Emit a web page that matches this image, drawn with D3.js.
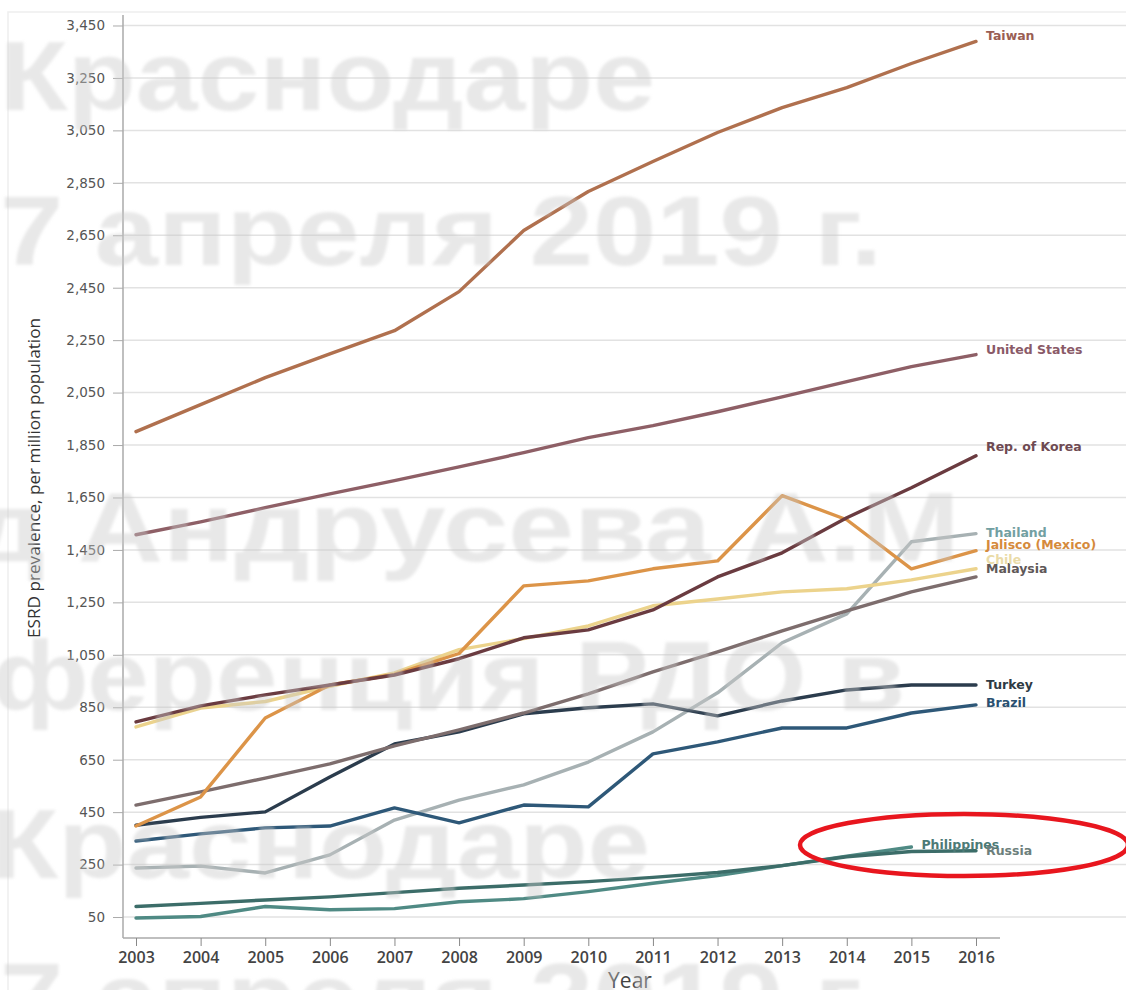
<!DOCTYPE html>
<html>
<head>
<meta charset="utf-8">
<script src="https://cdn.jsdelivr.net/npm/d3@7"></script>
<style>
  body { margin: 0; background: #fff; }
  svg { display: block; }
</style>
</head>
<body>
<svg id="chart" width="1126" height="990"></svg>
<script>
// data
var years = [2003, 2004, 2005, 2006, 2007, 2008, 2009, 2010, 2011, 2012, 2013, 2014, 2015, 2016];
var yTicks = [50, 250, 450, 650, 850, 1050, 1250, 1450, 1650, 1850, 2050, 2250, 2450, 2650, 2850, 3050, 3250, 3450];

var taiwan      = [1901, 2004, 2107, 2198, 2286, 2435, 2668, 2817, 2931, 3042, 3137, 3213, 3305, 3389];
var unitedStates= [1508, 1557, 1611, 1664, 1714, 1767, 1821, 1878, 1924, 1977, 2034, 2092, 2149, 2195];
var korea       = [794, 855, 897, 935, 973, 1035, 1115, 1145, 1221, 1347, 1439, 1573, 1687, 1809];
var thailand    = [237, 244, 218, 287, 420, 496, 554, 641, 756, 905, 1096, 1206, 1481, 1512];
var jalisco     = [397, 508, 809, 935, 975, 1055, 1313, 1332, 1378, 1408, 1657, 1565, 1378, 1447];
var chile       = [775, 847, 872, 930, 981, 1070, 1112, 1160, 1237, 1263, 1290, 1302, 1336, 1378];
var malaysia    = [477, 527, 580, 634, 703, 764, 828, 901, 985, 1061, 1141, 1218, 1290, 1347];
var turkey      = [400, 430, 451, 584, 710, 756, 825, 848, 863, 817, 874, 916, 935, 935];
var brazil      = [340, 367, 390, 397, 466, 409, 477, 470, 672, 718, 771, 771, 828, 859];
var philippines = [46, 52, 90, 78, 82, 108, 120, 147, 179, 208, 246, 282, 317];
var russia      = [90, 102, 115, 127, 143, 160, 172, 185, 201, 220, 246, 280, 300, 303];

var series = [
  {name: "Philippines",      values: philippines,  color: "#4f8a84", label: "#4c7a76", nudge: -2},
  {name: "Russia",           values: russia,       color: "#3c6d69", label: "#6d7f7c", nudge: 0},
  {name: "Thailand",         values: thailand,     color: "#a7b1b3", label: "#72a0a2", nudge: -1},
  {name: "Brazil",           values: brazil,       color: "#2e5878", label: "#2a5070", nudge: -2},
  {name: "Turkey",           values: turkey,       color: "#2b3c4d", label: "#2e3a44", nudge: 0},
  {name: "Malaysia",         values: malaysia,     color: "#7d6d6d", label: "#5f5858", nudge: -8},
  {name: "Chile",            values: chile,        color: "#ecd38c", label: "#eadba8", nudge: -9},
  {name: "Jalisco (Mexico)", values: jalisco,      color: "#dc9448", label: "#d58a3c", nudge: -6},
  {name: "Rep. of Korea",    values: korea,        color: "#6a3b40", label: "#6e4a52", nudge: -9},
  {name: "United States",    values: unitedStates, color: "#8e5f66", label: "#8a5a68", nudge: -5},
  {name: "Taiwan",           values: taiwan,       color: "#b0704e", label: "#9a5e54", nudge: -6}
];

var watermark = ["Краснодаре", "7 апреля 2019 г.", "д Андрусева А.М", "ференция РДО в", "Краснодаре", "7 апреля 2019 г."];

var svg = d3.select("#chart");

var x = d3.scaleLinear().domain([2003, 2016]).range([136, 976]);
var y = d3.scaleLinear().domain([-30, 3490]).range([938, 15]);

// faint frame
svg.append("path").attr("d", "M8,990V12H1126").attr("fill", "none").attr("stroke", "#eeeeee").attr("stroke-width", 1.5);

// grid
svg.append("g").selectAll("line").data(yTicks).join("line")
  .attr("x1", 123).attr("x2", 1126)
  .attr("y1", d => y(d)).attr("y2", d => y(d))
  .attr("stroke", "#e2e2e2").attr("stroke-width", 1.5);

// y axis
var yAxis = svg.append("g").attr("transform", "translate(123,0)")
  .call(d3.axisLeft(y).tickValues(yTicks).tickFormat(d3.format(",")).tickSize(10).tickPadding(8));
yAxis.select(".domain").attr("stroke", "#aaaaaa").attr("stroke-width", 1.5).attr("d", "M0,15V938");
yAxis.selectAll(".tick line").attr("stroke", "#aaaaaa");
yAxis.selectAll("text").attr("font-family", "DejaVu Sans").attr("font-size", 13.5).attr("fill", "#555");

// x axis
var xAxis = svg.append("g").attr("transform", "translate(0,938)")
  .call(d3.axisBottom(x).tickValues(years).tickFormat(d3.format("d")).tickSize(8).tickPadding(6));
xAxis.select(".domain").attr("stroke", "#aaaaaa").attr("stroke-width", 1.5).attr("d", "M123,0H1000");
xAxis.selectAll(".tick line").attr("stroke", "#888");
xAxis.selectAll("text").attr("font-family", "Open Sans").attr("font-size", 16).attr("font-weight", 600).attr("fill", "#444");

svg.append("text").attr("x", 630).attr("y", 988).attr("text-anchor", "middle")
  .attr("font-family", "Open Sans").attr("font-size", 21).attr("fill", "#444").text("Year");

svg.append("text").attr("transform", "translate(40,478) rotate(-90)").attr("text-anchor", "middle")
  .attr("font-family", "Open Sans").attr("font-size", 16).attr("fill", "#333")
  .attr("textLength", 320).attr("lengthAdjust", "spacingAndGlyphs")
  .text("ESRD prevalence, per million population");

// lines
var line = d3.line().x((d, i) => x(years[i])).y(d => y(d)).curve(d3.curveLinear);

svg.append("g").selectAll("path").data(series).join("path")
  .attr("d", d => line(d.values))
  .attr("fill", "none")
  .attr("stroke", d => d.color)
  .attr("stroke-width", 3.4)
  .attr("stroke-linejoin", "round")
  .attr("stroke-linecap", "round");

svg.append("g").selectAll("text").data(series).join("text")
  .attr("x", d => x(years[d.values.length - 1]) + 10)
  .attr("y", d => y(d.values[d.values.length - 1]) + d.nudge)
  .attr("dy", "0.35em")
  .attr("font-family", "DejaVu Sans").attr("font-weight", "bold").attr("font-size", 12.5)
  .attr("fill", d => d.label)
  .text(d => d.name);

// watermark overlay
var defs = svg.append("defs");
defs.append("filter").attr("id", "soft").append("feGaussianBlur").attr("stdDeviation", 1.8);

var wmPos = [[0, 110, 655], [0, 265, 882], [-30, 561, 990], [-8, 710, 913], [-10, 878, 660], [0, 1032, 882]];
svg.append("g").attr("filter", "url(#soft)").selectAll("text").data(watermark).join("text")
  .attr("x", (d, i) => wmPos[i][0])
  .attr("y", (d, i) => wmPos[i][1])
  .attr("textLength", (d, i) => wmPos[i][2])
  .attr("lengthAdjust", "spacingAndGlyphs")
  .attr("font-family", "Liberation Sans").attr("font-weight", "bold").attr("font-size", 98)
  .attr("fill", "#c8c8c8").attr("fill-opacity", 0.42)
  .text(d => d);

// red annotation ellipse
svg.append("ellipse").attr("cx", 964).attr("cy", 845).attr("rx", 164).attr("ry", 31)
  .attr("fill", "none").attr("stroke", "#e8161e").attr("stroke-width", 4.5);
</script>
</body>
</html>
